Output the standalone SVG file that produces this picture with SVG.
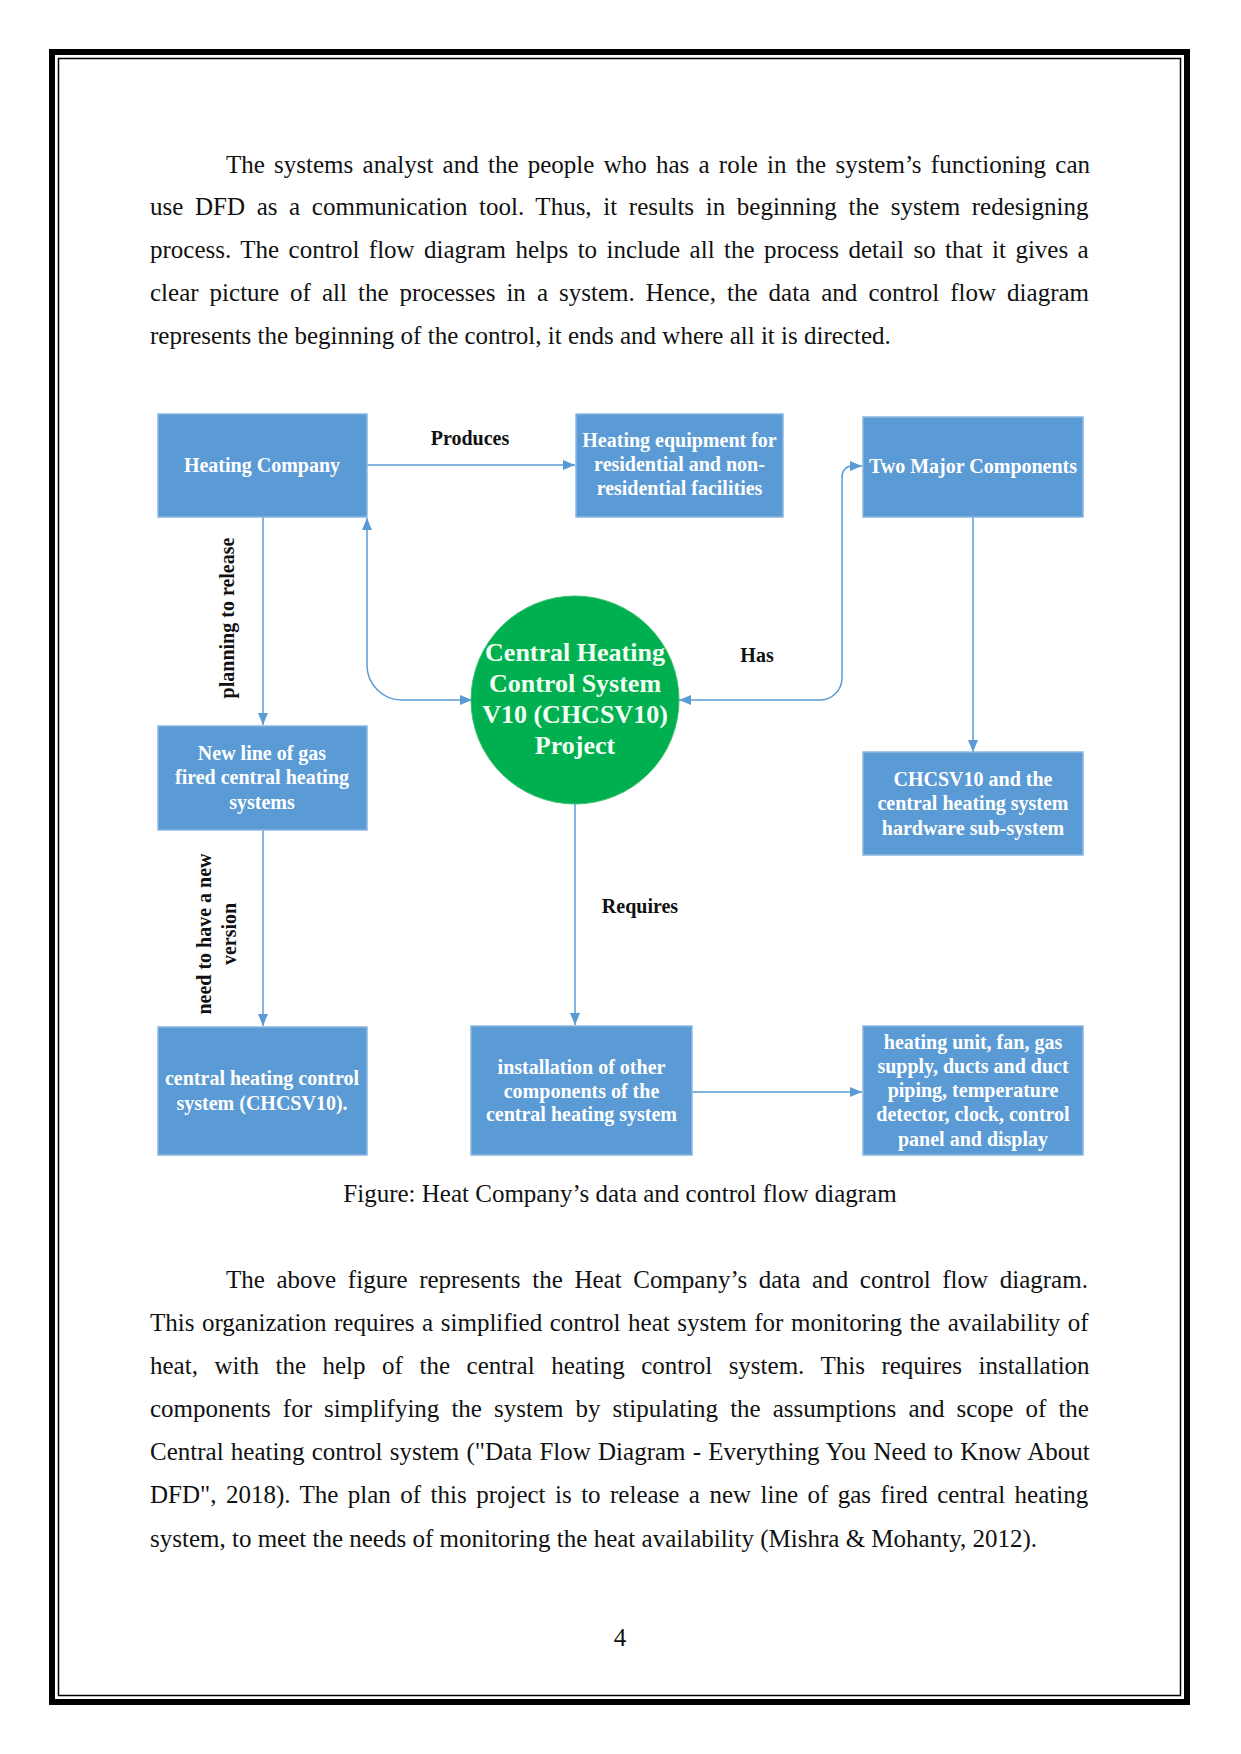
<svg xmlns="http://www.w3.org/2000/svg" width="1241" height="1754" viewBox="0 0 1241 1754">
<style>
.pg{font-family:"Liberation Serif","Times New Roman",serif;font-size:25px;fill:#111}
.box{fill:#5B9BD5;stroke:#8AB6E0;stroke-width:1.5}
.bt{font-family:"Liberation Serif","Times New Roman",serif;font-size:20px;font-weight:bold;fill:#fff;text-anchor:middle}
.ct{font-family:"Liberation Serif","Times New Roman",serif;font-size:26px;font-weight:bold;fill:#F2FFF2;text-anchor:middle}
.lbl{font-family:"Liberation Serif","Times New Roman",serif;font-size:20px;font-weight:bold;fill:#111;text-anchor:middle}
.conn{fill:none;stroke:#5B9BD5;stroke-width:1.5}
</style>
<defs>
<marker id="ah" viewBox="0 0 12 10" refX="12" refY="5" markerWidth="12" markerHeight="10" markerUnits="userSpaceOnUse" orient="auto-start-reverse">
<path d="M0,0 L12,5 L0,10 z" fill="#5B9BD5"/>
</marker>
</defs>
<rect width="1241" height="1754" fill="#fff"/>
<!-- page border -->
<rect x="52" y="52" width="1135" height="1650" fill="none" stroke="#000" stroke-width="6"/>
<rect x="58.5" y="58.5" width="1122" height="1637" fill="none" stroke="#000" stroke-width="1.5"/>

<!-- paragraph 1 -->
<g class="pg">
<text x="226" y="173" word-spacing="3.0">The systems analyst and the people who has a role in the system’s functioning can</text>
<text x="150" y="215" word-spacing="5.4">use DFD as a communication tool. Thus, it results in beginning the system redesigning</text>
<text x="150" y="258" word-spacing="3.2">process. The control flow diagram helps to include all the process detail so that it gives a</text>
<text x="150" y="301" word-spacing="4.8">clear picture of all the processes in a system. Hence, the data and control flow diagram</text>
<text x="150" y="344">represents the beginning of the control, it ends and where all it is directed.</text>
</g>

<!-- connectors -->
<g id="connectors">
<path class="conn" d="M367,465 H575" marker-end="url(#ah)"/>
<path class="conn" d="M263,517 V725" marker-end="url(#ah)"/>
<path class="conn" d="M263,830 V1026" marker-end="url(#ah)"/>
<path class="conn" d="M367,518 V665 A35,35 0 0 0 402,700 H472" marker-start="url(#ah)" marker-end="url(#ah)"/>
<path class="conn" d="M679,700 H820 A22,22 0 0 0 842,678 V476 A10,10 0 0 1 852,466 H862" marker-start="url(#ah)" marker-end="url(#ah)"/>
<path class="conn" d="M973,517 V752" marker-end="url(#ah)"/>
<path class="conn" d="M575,804 V1025" marker-end="url(#ah)"/>
<path class="conn" d="M692,1092 H862" marker-end="url(#ah)"/>
<text class="lbl" x="470" y="445">Produces</text>
<text class="lbl" x="757" y="662">Has</text>
<text class="lbl" x="640" y="913">Requires</text>
<text class="lbl" transform="translate(234,618) rotate(-90)">planning to release</text>
<text class="lbl" transform="translate(211,934) rotate(-90)">need to have a new</text>
<text class="lbl" transform="translate(236,934) rotate(-90)">version</text>
</g>

<g id="heating-company">
<rect class="box" x="158" y="414" width="209" height="103"/>
<text class="bt" x="262" y="472">Heating Company</text>
</g>
<g id="heating-equipment">
<rect class="box" x="576" y="414" width="207" height="103"/>
<text class="bt" x="679.5" y="447">Heating equipment for</text>
<text class="bt" x="679.5" y="471">residential and non-</text>
<text class="bt" x="679.5" y="495">residential facilities</text>
</g>
<g id="two-major">
<rect class="box" x="863" y="417" width="220" height="100"/>
<text class="bt" x="973" y="473">Two Major Components</text>
</g>
<g id="new-line">
<rect class="box" x="158" y="726" width="209" height="104"/>
<text class="bt" x="262" y="760">New line of gas</text>
<text class="bt" x="262" y="784">fired central heating</text>
<text class="bt" x="262" y="809">systems</text>
</g>
<g id="chcsv10-project">
<circle cx="575" cy="700" r="104" fill="#00B050" stroke="#3CC070" stroke-width="1"/>
<text class="ct" x="575" y="661">Central Heating</text>
<text class="ct" x="575" y="692">Control System</text>
<text class="ct" x="575" y="723">V10 (CHCSV10)</text>
<text class="ct" x="575" y="754">Project</text>
</g>
<g id="hardware">
<rect class="box" x="863" y="752" width="220" height="103"/>
<text class="bt" x="973" y="786">CHCSV10 and the</text>
<text class="bt" x="973" y="810">central heating system</text>
<text class="bt" x="973" y="835">hardware sub-system</text>
</g>
<g id="control-system">
<rect class="box" x="158" y="1027" width="209" height="128"/>
<text class="bt" x="262" y="1085">central heating control</text>
<text class="bt" x="262" y="1110">system (CHCSV10).</text>
</g>
<g id="installation">
<rect class="box" x="471" y="1026" width="221" height="129"/>
<text class="bt" x="581.5" y="1074">installation of other</text>
<text class="bt" x="581.5" y="1098">components of the</text>
<text class="bt" x="581.5" y="1121">central heating system</text>
</g>
<g id="components">
<rect class="box" x="863" y="1026" width="220" height="129"/>
<text class="bt" x="973" y="1049">heating unit, fan, gas</text>
<text class="bt" x="973" y="1073">supply, ducts and duct</text>
<text class="bt" x="973" y="1097">piping, temperature</text>
<text class="bt" x="973" y="1121">detector, clock, control</text>
<text class="bt" x="973" y="1146">panel and display</text>
</g>

<text class="pg" x="620" y="1202" text-anchor="middle">Figure: Heat Company’s data and control flow diagram</text>

<!-- paragraph 2 -->
<g class="pg">
<text x="226" y="1288" word-spacing="5.4">The above figure represents the Heat Company’s data and control flow diagram.</text>
<text x="150" y="1331" word-spacing="1.3">This organization requires a simplified control heat system for monitoring the availability of</text>
<text x="150" y="1374" word-spacing="10.3">heat, with the help of the central heating control system. This requires installation</text>
<text x="150" y="1417" word-spacing="5.8">components for simplifying the system by stipulating the assumptions and scope of the</text>
<text x="150" y="1460" word-spacing="1.0">Central heating control system ("Data Flow Diagram - Everything You Need to Know About</text>
<text x="150" y="1503" word-spacing="3.2">DFD", 2018). The plan of this project is to release a new line of gas fired central heating</text>
<text x="150" y="1547">system, to meet the needs of monitoring the heat availability (Mishra &amp; Mohanty, 2012).</text>
</g>

<text class="pg" x="620" y="1646" text-anchor="middle">4</text>
</svg>
